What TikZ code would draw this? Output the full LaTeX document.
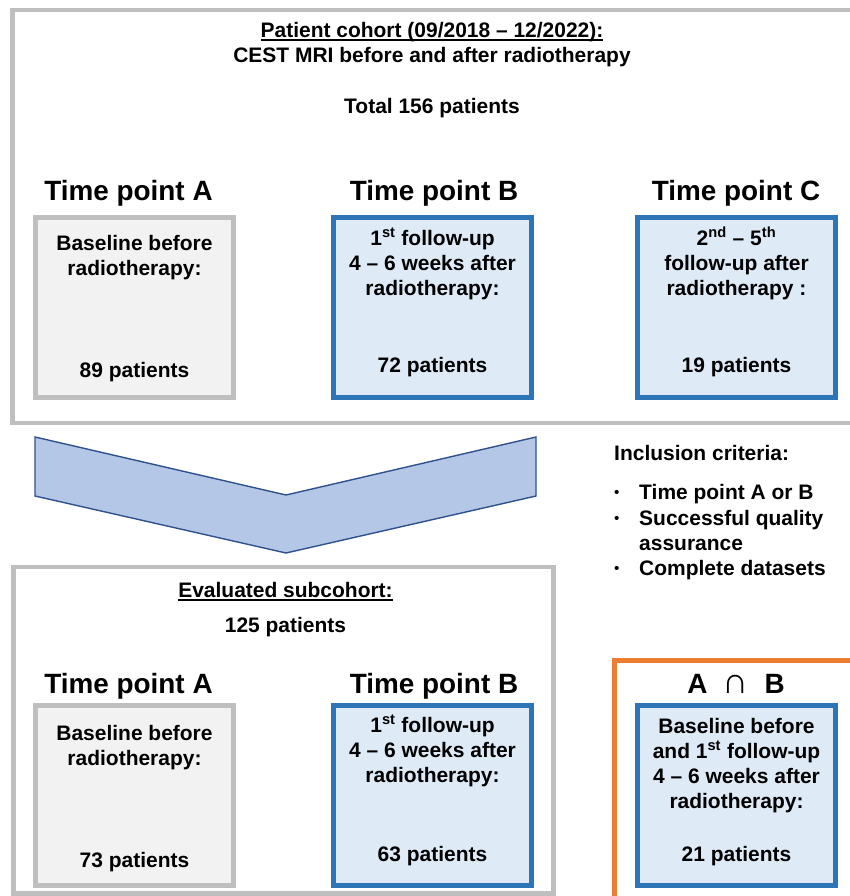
\documentclass[tikz,border=0pt]{standalone}
\usepackage{fontspec}
\setmainfont{Liberation Sans}
\definecolor{framegray}{HTML}{BFBFBF}
\definecolor{greyfill}{HTML}{F2F2F2}
\definecolor{blueline}{HTML}{2E75B6}
\definecolor{bluefill}{HTML}{DEEBF7}
\definecolor{arrowfill}{HTML}{B4C7E7}
\definecolor{arrowline}{HTML}{2F528F}
\definecolor{orangeline}{HTML}{ED7D31}
\newcommand{\ulined}[1]{\setbox0\hbox{#1}\rlap{\rule[-3pt]{\wd0}{1.6pt}}\box0}
\begin{document}
\begin{tikzpicture}[x=0.03cm, y=-0.03cm]

    \tikzset{
      frame/.style={draw=framegray, line width=4.25pt},
      greybox/.style={
        draw=framegray,
        fill=greyfill,
        line width=4.25pt,
        inner sep=0pt,
        minimum width=5.94cm,
        minimum height=5.4cm,
      },
      bluebox/.style={greybox, draw=blueline, fill=bluefill},
      txt/.style={font=\fontsize{17.9}{21.3}\selectfont\bfseries, align=center, anchor=base, inner sep=0pt},
      head/.style={font=\fontsize{23.8}{28}\selectfont\bfseries, anchor=base, inner sep=0pt},
    }
    \useasboundingbox (0,0) rectangle (850,896);
    \clip (0,0) rectangle (850,896);
    % frames
    \draw[frame] (12.5,10) rectangle (900,423);
    \draw[frame] (13.5,567) rectangle (553.5,893);
    \draw[frame, draw=orangeline] (614.5,660.5) rectangle (900,950);

    % whole cohort (base = last line)
    \node[txt] (cohort) at (432,62) {\ulined{Patient cohort (09/2018 – 12/2022):}\\CEST MRI before and after radiotherapy};
    \node[txt] (total) at (432,113) {Total 156 patients};
    \node[head] (tpA) at (128.5,200) {Time point A};
    \node[head] (tpB) at (434,200) {Time point B};
    \node[head] (tpC) at (736,200) {Time point C};
    \node[greybox] (boxA) at (134.5,307.5) {};
    \node[bluebox] (boxB) at (432.5,307.5) {};
    \node[bluebox] (boxC) at (736.5,307.5) {};
    \node[txt] (boxAtop) at (134.5,275) {Baseline before\\radiotherapy:};
    \node[txt] (boxAnum) at (134.5,377) {89 patients};
    \node[txt] (boxBtop) at (432.5,295) {1\textsuperscript{st} follow-up\\4 – 6 weeks after\\radiotherapy:};
    \node[txt] (boxBnum) at (432.5,372) {72 patients};
    \node[txt] (boxCtop) at (736.5,295) {2\textsuperscript{nd} – 5\textsuperscript{th}\\follow-up after\\radiotherapy :};
    \node[txt] (boxCnum) at (736.5,372) {19 patients};

    % chevron
    \draw[draw=arrowline, fill=arrowfill, line width=1.2pt] (35,437) -- (286,495) -- (536,437) -- (536,496) -- (286,553) -- (35,496) -- cycle;

    % inclusion criteria
    \node[txt, anchor=base west] (incl) at (614,460) {Inclusion criteria:};
    \foreach \y in {499,525,575}
      \node[txt, font=\fontsize{13}{15}\selectfont, anchor=base west] (bullet\y) at (614,\y-2) {•};
    \node[txt, anchor=base west] (critA) at (639,499) {Time point A or B};
    \node[txt, anchor=base west, align=left] (critB) at (639,550) {Successful quality\\assurance};
    \node[txt, anchor=base west] (critC) at (639,575) {Complete datasets};

    % evaluated subcohort
    \node[txt] (sub) at (285.5,597) {\ulined{Evaluated subcohort:}};
    \node[txt] (subtotal) at (285.5,632) {125 patients};
    \node[head] (tpA2) at (128.5,693) {Time point A};
    \node[head] (tpB2) at (434,693) {Time point B};
    \node[head] (tpAB) at (736,693) {A~~\scalebox{1.3}{∩}~~B};
    \node[greybox] (boxA2) at (134.5,795.5) {};
    \node[bluebox] (boxB2) at (432.5,795.5) {};
    \node[bluebox] (boxAB) at (736.5,795.5) {};
    \node[txt] (boxA2top) at (134.5,765) {Baseline before\\radiotherapy:};
    \node[txt] (boxA2num) at (134.5,867) {73 patients};
    \node[txt] (boxB2top) at (432.5,782) {1\textsuperscript{st} follow-up\\4 – 6 weeks after\\radiotherapy:};
    \node[txt] (boxB2num) at (432.5,861) {63 patients};
    \node[txt] (boxABtop) at (736.5,808) {Baseline before\\and 1\textsuperscript{st} follow-up\\4 – 6 weeks after\\radiotherapy:};
    \node[txt] (boxABnum) at (736.5,861) {21 patients};

\end{tikzpicture}
\end{document}
